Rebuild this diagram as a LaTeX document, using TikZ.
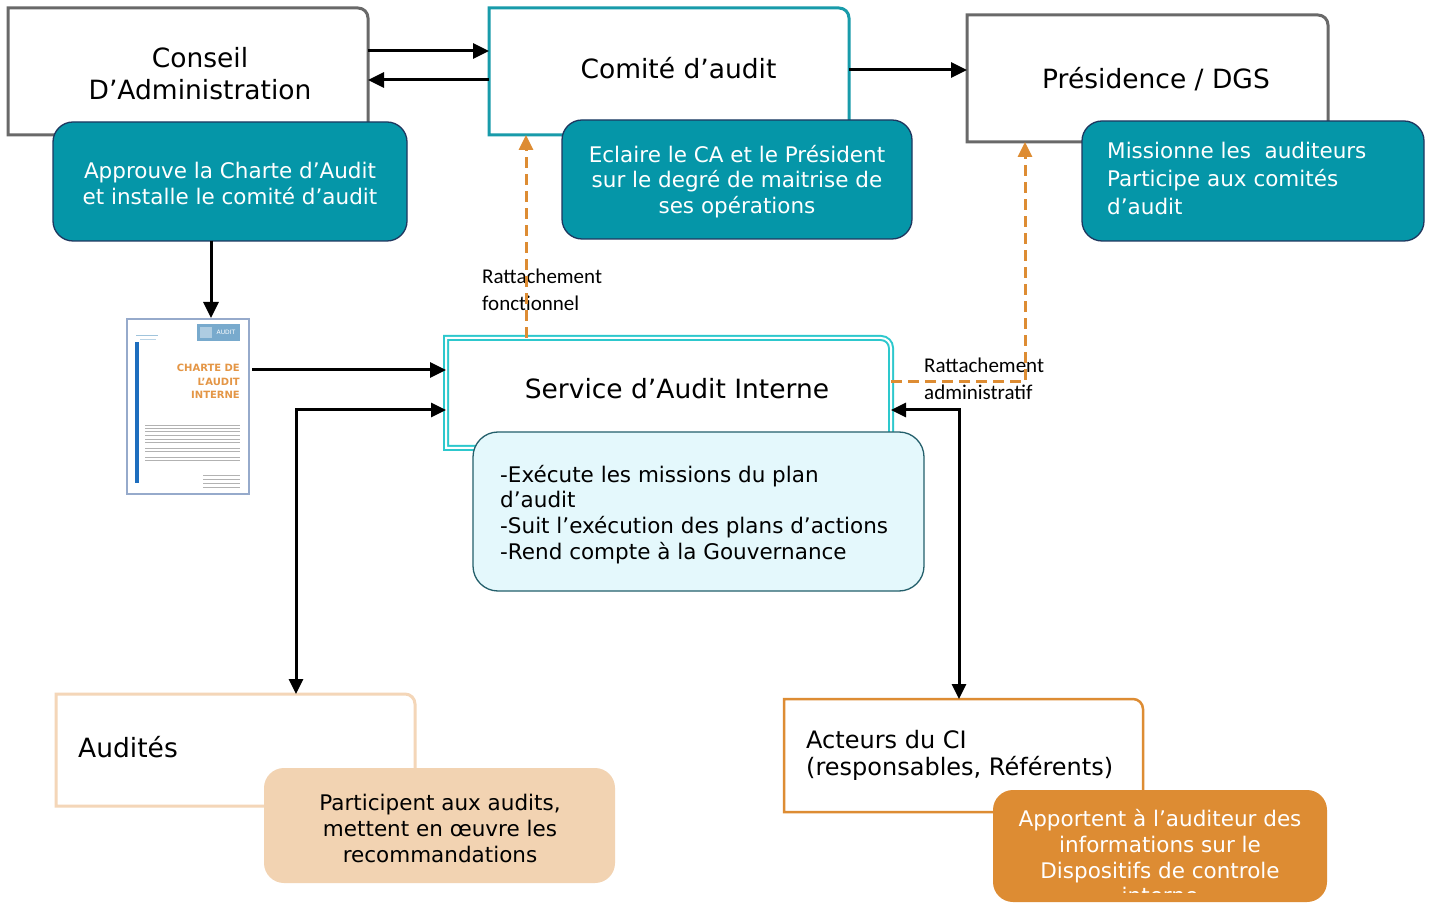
\documentclass[tikz,border=0pt]{standalone}
\usepackage{fontspec}
\setmainfont{DejaVu Sans}
\newfontfamily\calfont{Carlito}
\usetikzlibrary{arrows.meta,calc}
\definecolor{tealfill}{RGB}{5,150,168}
\definecolor{tealline}{RGB}{30,55,95}
\definecolor{comline}{RGB}{24,155,170}
\definecolor{cyanline}{RGB}{45,200,205}
\definecolor{greyline}{RGB}{105,105,105}
\definecolor{lightfill}{RGB}{228,248,252}
\definecolor{lightline}{RGB}{35,95,107}
\definecolor{orangec}{RGB}{221,140,51}
\definecolor{peach}{RGB}{242,211,178}
\definecolor{peachline}{RGB}{244,214,184}
\definecolor{docblue}{RGB}{30,110,190}
\definecolor{docframe}{RGB}{150,170,203}
\definecolor{logoblue}{RGB}{120,170,205}
\definecolor{docorange}{RGB}{228,150,70}
\newcommand\tabframe[2]{\draw[#1] (#2.south west) -- (#2.north west) -- ([xshift=-10pt]#2.north east) arc[start angle=90,end angle=0,radius=10pt] -- (#2.south east) -- cycle;}
\tikzset{
  frm/.style={rectangle, inner sep=0pt, outer sep=0pt},
  ttl/.style={font=\fontsize{26.5}{32}\selectfont, align=center, inner sep=0pt},
  body/.style={font=\fontsize{21.5}{25.8}\selectfont, inner sep=0pt},
  note/.style={rectangle, rounded corners=20pt, fill=tealfill, draw=tealline, line width=1.3pt, text=white, font=\fontsize{21.5}{25.8}\selectfont, align=center, inner sep=0pt, outer sep=0pt},
  lbl/.style={font=\calfont\fontsize{21}{27}\selectfont, align=left, inner sep=0pt},
  arr/.style={line width=3pt, -{Triangle[length=16pt,width=15pt]}},
  dblarr/.style={line width=3pt, {Triangle[length=15pt,width=14pt]}-{Triangle[length=15pt,width=14pt]}},
  darr/.style={line width=3pt, orangec, dash pattern=on 11pt off 6pt, -{Triangle[length=15pt,width=14pt]}},
  docline/.style={line width=0.8pt, gray!60}
}
\begin{document}
\begin{tikzpicture}[x=1pt,y=1pt]
\useasboundingbox (0,0) rectangle (1429,903);
\fill[white] (0,0) rectangle (1429,903);

% --- Conseil d'Administration
\node[frm, minimum width=360pt, minimum height=127pt] (conseil) at (188,831.5) {};
\tabframe{greyline, line width=3pt}{conseil}
\node[ttl] (conseilt) at (200,829) {Conseil\\D’Administration};
\node[note, minimum width=354pt, minimum height=119pt] (teal1) at (230,721.5) {};
\node[note, draw=none, fill=none, minimum width=0pt, minimum height=0pt] (teal1t) at (230,719.5) {Approuve la Charte d’Audit\\et installe le comité d’audit};

% --- Comité d'audit
\node[frm, minimum width=360pt, minimum height=127pt] (comite) at (669,831.5) {};
\tabframe{comline, line width=3pt}{comite}
\node[ttl] (comitet) at (678.5,835) {Comité d’audit};
\node[note, minimum width=350pt, minimum height=119pt] (teal2) at (737,723.5) {};
\node[note, draw=none, fill=none, minimum width=0pt, minimum height=0pt] (teal2t) at (737,721.5) {Eclaire le CA et le Président\\sur le degré de maitrise de\\ses opérations};

% --- Présidence
\node[frm, minimum width=361pt, minimum height=127pt] (presid) at (1147.5,824.5) {};
\tabframe{greyline, line width=3pt}{presid}
\node[ttl] (presidt) at (1156,824) {Présidence / DGS};
\node[note, minimum width=342pt, minimum height=120pt] (teal3) at (1253,722) {};
\node[body, text=white, align=left, anchor=west, font=\fontsize{21.5}{28}\selectfont] (teal3t) at (1107,725) {Missionne les\ \ auditeurs\\Participe aux comités\\d’audit};

% --- Document thumbnail
\node[frm, draw=docframe, line width=1.2pt, fill=white, minimum width=122pt, minimum height=175pt] (doc) at (188,496.5) {};
\fill[docblue] (135,420) rectangle (139,561);
\fill[logoblue] (197,562) rectangle (240,579);
\fill[logoblue!60] (200,565) rectangle (212,576);
\node[inner sep=0pt, text=white, font=\fontsize{6}{6}\selectfont] (logot) at (226,571) {AUDIT};
\draw[line width=0.8pt, logoblue!70] (136,568) -- (158,568);
\draw[line width=0.6pt, logoblue!50] (140,564) -- (156,564);
\node[anchor=east, inner sep=0pt, align=right, text=docorange, font=\bfseries\fontsize{10}{13.5}\selectfont] (doctitle) at (240,521.5) {CHARTE DE\\L’AUDIT\\INTERNE};
\foreach \yy in {478,475,472,468,464,461,455,452,446,443}
  \draw[docline] (145,\yy) -- (240,\yy);
\foreach \yy in {428,424,420,416}
  \draw[docline] (203,\yy) -- (240,\yy);

% --- Service d'Audit Interne
\node[frm, minimum width=445pt, minimum height=110pt] (service) at (668.5,510) {};
\tabframe{cyanline, line width=2pt, double=white, double distance=2pt}{service}
\node[ttl] (servicet) at (677,514) {Service d’Audit Interne};
\node[frm, rounded corners=25pt, fill=lightfill, draw=lightline, line width=1.3pt, minimum width=451pt, minimum height=159pt] (light) at (698.5,391.5) {};
\node[body, align=left, anchor=west] (lightt) at (500,388.5) {-Exécute les missions du plan\\d’audit\\-Suit l’exécution des plans d’actions\\-Rend compte à la Gouvernance};

% --- Audités
\node[frm, minimum width=359pt, minimum height=112pt] (audites) at (235.5,153) {};
\tabframe{peachline, line width=3pt}{audites}
\node[ttl, anchor=west] (auditest) at (78,156) {Audités};
\node[frm, rounded corners=20pt, fill=peach, minimum width=351pt, minimum height=115pt] (peachn) at (439.5,77.5) {};
\node[body, align=center] (peacht) at (440,74.5) {Participent aux audits,\\mettent en œuvre les\\recommandations};

% --- Acteurs du CI
\node[frm, minimum width=359pt, minimum height=113pt] (acteurs) at (963.5,147.5) {};
\tabframe{orangec, line width=2.5pt}{acteurs}
\node[anchor=west, align=left, inner sep=0pt, font=\fontsize{24}{27}\selectfont] (acteurst) at (806,147.5) {Acteurs du CI\\(responsables, Référents)};
\node[frm, rounded corners=20pt, fill=orangec, minimum width=334pt, minimum height=112pt] (orangen) at (1160,57) {};
\begin{scope}
  \clip (993,11) rectangle (1327,113);
  \node[body, align=center, text=white, anchor=north] (oranget) at (1160,94) {Apportent à l’auditeur des\\informations sur le\\Dispositifs de controle\\interne};
\end{scope}

% --- labels
\node[lbl, anchor=west] (rf) at (482,613.5) {Rattachement\\fonctionnel};
\node[lbl, anchor=west] (ra) at (924,524) {Rattachement\\administratif};

% --- connectors
\draw[arr] ([yshift=20.5pt]conseil.east) -- ([yshift=20.5pt]comite.west);
\draw[arr] ([yshift=-8.5pt]comite.west) -- ([yshift=-8.5pt]conseil.east);
\draw[arr] ([yshift=1.5pt]comite.east) -- ([yshift=8.5pt]presid.west);
\draw[arr] ([xshift=-19pt]teal1.south) -- ([xshift=23pt,yshift=1pt]doc.north);
\draw[arr] ([xshift=3pt,yshift=36.5pt]doc.east) -- ([yshift=23pt]service.west);
\draw[dblarr] ([xshift=60.5pt]audites.north) |- ([yshift=-17pt]service.west);
\draw[dblarr] ([yshift=-17pt]service.east) -| ([xshift=-4.5pt]acteurs.north);
\draw[darr] ([xshift=-142.5pt]service.north) -- ([xshift=-143pt]comite.south);
\draw[darr] ([yshift=11pt]service.east) -| ([xshift=-122.5pt]presid.south);
\end{tikzpicture}
\end{document}
